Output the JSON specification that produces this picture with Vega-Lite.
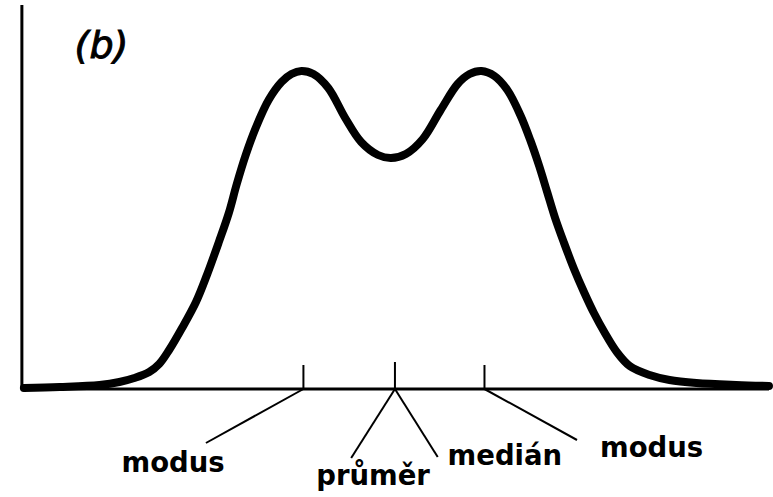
{
  "$schema": "https://vega.github.io/schema/vega-lite/v6.json",
  "width": 773,
  "height": 497,
  "padding": 0,
  "autosize": {"type": "fit", "contains": "padding"},
  "background": "white",
  "config": {"view": {"stroke": null}},
  "datasets": {
    "curve": [
      {"x": 2, "y": 1}, {"x": 38, "y": 2}, {"x": 78, "y": 4}, {"x": 98, "y": 7},
      {"x": 113, "y": 11}, {"x": 128, "y": 17}, {"x": 138, "y": 25}, {"x": 148, "y": 39},
      {"x": 161, "y": 61}, {"x": 175, "y": 87}, {"x": 186, "y": 114}, {"x": 198, "y": 147},
      {"x": 208, "y": 176}, {"x": 216, "y": 205}, {"x": 225, "y": 234}, {"x": 235, "y": 261},
      {"x": 248, "y": 289}, {"x": 261, "y": 307}, {"x": 271, "y": 315}, {"x": 281, "y": 318},
      {"x": 293, "y": 315}, {"x": 308, "y": 301}, {"x": 325, "y": 271}, {"x": 341, "y": 247},
      {"x": 358, "y": 234}, {"x": 371, "y": 231}, {"x": 386, "y": 235}, {"x": 403, "y": 250},
      {"x": 421, "y": 279}, {"x": 438, "y": 305}, {"x": 450, "y": 315}, {"x": 462, "y": 318},
      {"x": 475, "y": 313}, {"x": 488, "y": 299}, {"x": 501, "y": 274}, {"x": 511, "y": 249},
      {"x": 520, "y": 223}, {"x": 528, "y": 197}, {"x": 536, "y": 171}, {"x": 545, "y": 146},
      {"x": 555, "y": 120}, {"x": 565, "y": 97}, {"x": 575, "y": 76}, {"x": 586, "y": 56},
      {"x": 598, "y": 37}, {"x": 611, "y": 23}, {"x": 631, "y": 14}, {"x": 651, "y": 9},
      {"x": 678, "y": 6}, {"x": 718, "y": 4}, {"x": 751, "y": 3}
    ],
    "axes": [
      {"x": 0, "y": 0, "x2": 0, "y2": 384},
      {"x": 0, "y": 0, "x2": 751, "y2": 0}
    ],
    "segs": [
      {"x": 283, "y": 0, "x2": 283, "y2": 24},
      {"x": 375, "y": 0, "x2": 375, "y2": 27},
      {"x": 465, "y": 0, "x2": 465, "y2": 24},
      {"x": 283, "y": 0, "x2": 185, "y2": -54},
      {"x": 375, "y": 0, "x2": 331, "y2": -69},
      {"x": 375, "y": 0, "x2": 418, "y2": -68},
      {"x": 465, "y": 0, "x2": 558, "y2": -51}
    ],
    "labels": [
      {"x": 152, "y": -83, "text": "modus"},
      {"x": 353, "y": -96, "text": "průměr"},
      {"x": 485.5, "y": -76, "text": "medián"},
      {"x": 633, "y": -68, "text": "modus"}
    ],
    "title": [
      {"x": 80, "y": 331, "text": "(b)"}
    ]
  },
  "layer": [
    {
      "data": {"name": "axes"},
      "mark": {"type": "rule", "color": "black", "strokeWidth": 3},
      "encoding": {
        "x": {"field": "x", "type": "quantitative", "scale": {"domain": [-22, 751], "nice": false, "zero": false}, "axis": null},
        "y": {"field": "y", "type": "quantitative", "scale": {"domain": [-108, 389], "nice": false, "zero": false}, "axis": null},
        "x2": {"field": "x2"},
        "y2": {"field": "y2"}
      }
    },
    {
      "data": {"name": "segs"},
      "mark": {"type": "rule", "color": "black", "strokeWidth": 2},
      "encoding": {
        "x": {"field": "x", "type": "quantitative"},
        "y": {"field": "y", "type": "quantitative"},
        "x2": {"field": "x2"},
        "y2": {"field": "y2"}
      }
    },
    {
      "data": {"name": "curve"},
      "mark": {"type": "line", "color": "black", "strokeWidth": 8, "interpolate": "catmull-rom", "strokeCap": "round", "strokeJoin": "round"},
      "encoding": {
        "x": {"field": "x", "type": "quantitative"},
        "y": {"field": "y", "type": "quantitative"}
      }
    },
    {
      "data": {"name": "labels"},
      "mark": {"type": "text", "font": "DejaVu Sans", "fontWeight": "bold", "fontSize": 27.5, "align": "center", "baseline": "alphabetic", "color": "black"},
      "encoding": {
        "x": {"field": "x", "type": "quantitative"},
        "y": {"field": "y", "type": "quantitative"},
        "text": {"field": "text"}
      }
    },
    {
      "data": {"name": "title"},
      "mark": {"type": "text", "font": "DejaVu Sans", "fontStyle": "italic", "fontSize": 38, "align": "center", "baseline": "alphabetic", "color": "black", "stroke": "black", "strokeWidth": 1},
      "encoding": {
        "x": {"field": "x", "type": "quantitative"},
        "y": {"field": "y", "type": "quantitative"},
        "text": {"field": "text"}
      }
    }
  ]
}
